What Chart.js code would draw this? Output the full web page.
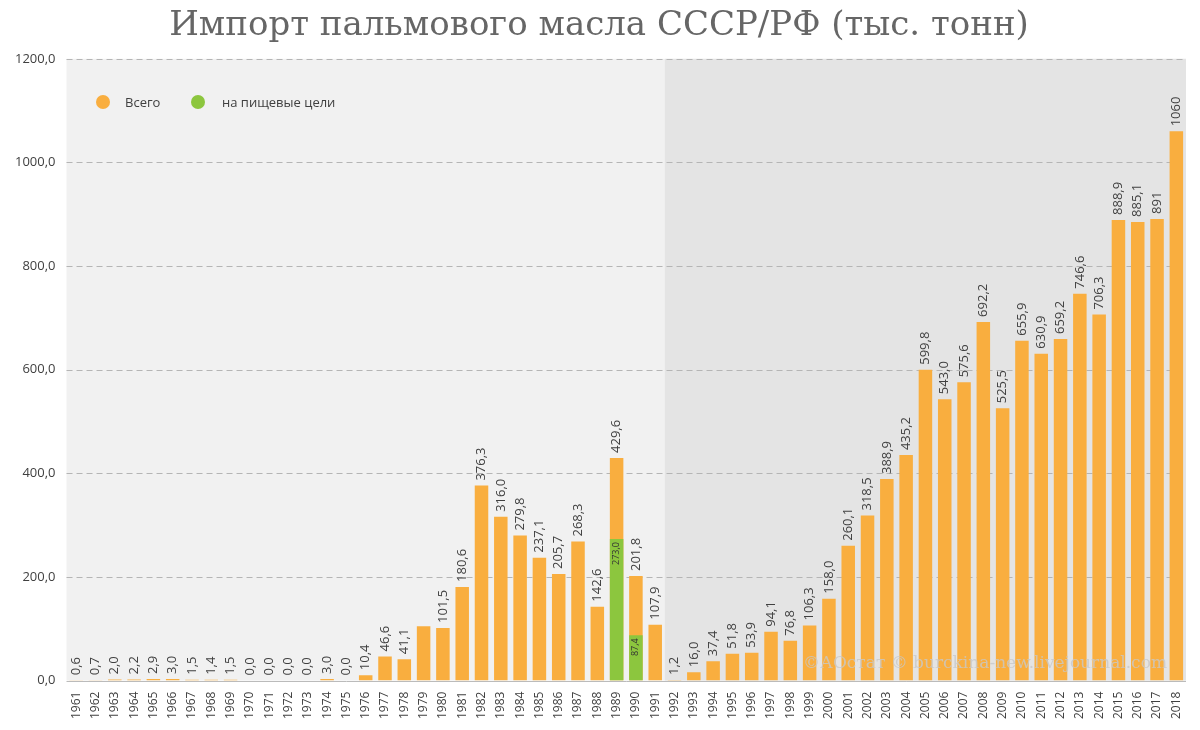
<!DOCTYPE html>
<html><head><meta charset="utf-8">
<script src="https://cdn.jsdelivr.net/npm/chart.js@4"></script>
<style>body{margin:0;background:#fff}#w{width:1200px;height:730px}</style>
</head><body><div id="w"><canvas id="c"></canvas></div>
<script>
const years=[];for(let y=1961;y<=2018;y++)years.push(String(y));
const totals=[0.6,0.7,2.0,2.2,2.9,3.0,1.5,1.4,1.5,0,0,0,0,3.0,0,10.4,46.6,41.1,105,101.5,180.6,376.3,316.0,279.8,237.1,205.7,268.3,142.6,429.6,201.8,107.9,1.2,16.0,37.4,51.8,53.9,94.1,76.8,106.3,158.0,260.1,318.5,388.9,435.2,599.8,543.0,575.6,692.2,525.5,655.9,630.9,659.2,746.6,706.3,888.9,885.1,891,1060];
const totalLabels=["0,6","0,7","2,0","2,2","2,9","3,0","1,5","1,4","1,5","0,0","0,0","0,0","0,0","3,0","0,0","10,4","46,6","41,1","","101,5","180,6","376,3","316,0","279,8","237,1","205,7","268,3","142,6","429,6","201,8","107,9","1,2","16,0","37,4","51,8","53,9","94,1","76,8","106,3","158,0","260,1","318,5","388,9","435,2","599,8","543,0","575,6","692,2","525,5","655,9","630,9","659,2","746,6","706,3","888,9","885,1","891","1060"];
const food=years.map(y=>y==="1989"?273.0:y==="1990"?87.4:null);
const foodLabels=years.map(y=>y==="1989"?"273,0":y==="1990"?"87,4":"");
const yTicks=[0,200,400,600,800,1000,1200];
const seriesNames=["Всего","на пищевые цели"];
const ORANGE="#f9ae3f",GREEN="#8cc63e";

const deco={id:'deco',
beforeDatasetsDraw(ch){const {ctx,chartArea:a,scales:{x}}=ch;ctx.save();
 ctx.fillStyle="#f1f1f1";ctx.fillRect(a.left,a.top,a.right-a.left,a.bottom-a.top);
 const b=(x.getPixelForValue(30)+x.getPixelForValue(31))/2;
 ctx.fillStyle="#e4e4e4";ctx.fillRect(b,a.top,a.right-b,a.bottom-a.top);
 const yS=ch.scales.y;ctx.strokeStyle="#b5b5b5";ctx.setLineDash([6,4]);ctx.lineWidth=1;
 yTicks.forEach(v=>{if(v===0)return;const py=Math.round(yS.getPixelForValue(v))+0.5;ctx.beginPath();ctx.moveTo(a.left,py);ctx.lineTo(a.right,py);ctx.stroke();});
 ctx.setLineDash([]);ctx.strokeStyle="#bbb";const p0=Math.round(yS.getPixelForValue(0))+0.5;ctx.beginPath();ctx.moveTo(a.left,p0);ctx.lineTo(a.right,p0);ctx.stroke();
 ctx.restore();},
afterDatasetsDraw(ch){const {ctx,chartArea:a}=ch;ctx.save();
 const m=ch.getDatasetMeta(1);
 ctx.font="13px 'Open Sans', sans-serif";ctx.fillStyle="#404040";ctx.textAlign="left";ctx.textBaseline="middle";
 m.data.forEach((el,i)=>{const t=totalLabels[i];if(!t)return;ctx.save();ctx.translate(el.x,el.y-5);ctx.rotate(-Math.PI/2);ctx.fillText(t,0,0);ctx.restore();});
 const g=ch.getDatasetMeta(0);ctx.font="9px 'Open Sans', sans-serif";ctx.fillStyle="#333";ctx.textAlign="right";
 g.data.forEach((el,i)=>{const t=foodLabels[i];if(!t)return;ctx.save();ctx.translate(el.x,el.y+3);ctx.rotate(-Math.PI/2);ctx.fillText(t,0,0);ctx.restore();});
 ctx.font="13px 'Open Sans', sans-serif";ctx.textAlign="left";ctx.fillStyle="#404040";
 [[103,ORANGE,seriesNames[0],125],[198,GREEN,seriesNames[1],222]].forEach(([cx,c,t,tx])=>{ctx.beginPath();ctx.arc(cx,102,7,0,Math.PI*2);ctx.fillStyle=c;ctx.fill();ctx.fillStyle="#404040";ctx.fillText(t,tx,103);});
 ctx.font="17px 'DejaVu Serif', serif";ctx.fillStyle="rgba(200,200,200,0.8)";ctx.textAlign="right";
 ctx.fillText("©АОстат © burckina-new.livejournal.com",1167,664);
 ctx.restore();}};

new Chart(document.getElementById('c'),{type:'bar',
data:{labels:years,datasets:[
 {label:seriesNames[1],data:food,backgroundColor:GREEN,grouped:false,order:0,barPercentage:0.7,categoryPercentage:1},
 {label:seriesNames[0],data:totals,backgroundColor:ORANGE,grouped:false,order:1,barPercentage:0.7,categoryPercentage:1}]},
options:{responsive:true,maintainAspectRatio:false,animation:false,
 layout:{padding:{left:12,right:14,top:0,bottom:8}},
 plugins:{legend:{display:false},tooltip:{enabled:false},
  title:{display:true,text:"Импорт пальмового масла СССР/РФ (тыс. тонн)",font:{family:"'DejaVu Serif', serif",size:34,weight:'normal'},color:"#666666",padding:{top:6,bottom:12}}},
 scales:{
  x:{grid:{display:false},border:{display:false},ticks:{color:"#404040",font:{size:12,family:"'Open Sans', sans-serif"},maxRotation:90,minRotation:90,autoSkip:false}},
  y:{min:0,max:1200,grid:{display:false},border:{display:false},afterBuildTicks(s){s.ticks=yTicks.map(v=>({value:v}));},
   ticks:{color:"#404040",font:{size:13,family:"'Open Sans', sans-serif"},callback:v=>v.toFixed(1).replace('.',',')}}}},
plugins:[deco]});
</script></body></html>
